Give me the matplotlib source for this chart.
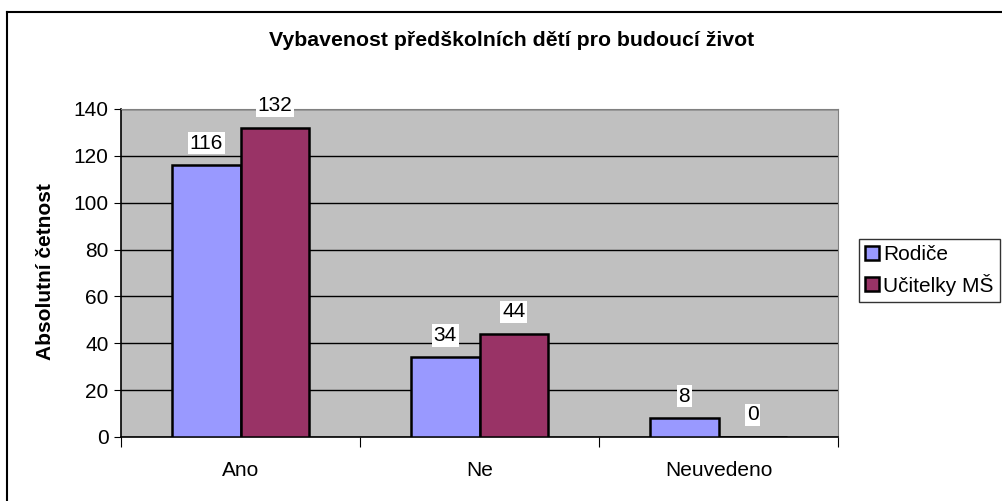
import numpy as np
import matplotlib
matplotlib.use('Agg')
import matplotlib.pyplot as plt
from matplotlib.patches import Patch

plt.rcParams['font.family'] = ['Liberation Sans', 'DejaVu Sans']

# data
kategorie = ['Ano', 'Ne', 'Neuvedeno']
rodice = [116, 34, 8]
ucitelky = [132, 44, 0]
serie = ['Rodiče', 'Učitelky MŠ']
barvy = ['#9999FF', '#993366']

W, H = 1002, 501
fig = plt.figure(figsize=(W / 100, H / 100), dpi=100)

# plocha grafu
ax = fig.add_axes([121 / W, 1 - 437 / H, 717 / W, 328 / H])
ax.set_facecolor('#C0C0C0')

x = np.arange(len(kategorie))
sirka = 1 / 3.5
for i, (hodnoty, barva) in enumerate(zip([rodice, ucitelky], barvy)):
    pos = x + (i - 0.5) * sirka
    ax.bar(pos, hodnoty, width=sirka, color=barva, edgecolor='black',
           linewidth=1.8, zorder=3)
    for p, v in zip(pos, hodnoty):
        ax.annotate(str(v), (p, v), xytext=(0, 9), textcoords='offset points',
                    ha='center', va='bottom', fontsize=15, zorder=5,
                    bbox=dict(boxstyle='square,pad=0.08', fc='white', ec='none'))

ax.set_xlim(-0.5, 2.5)
ax.set_ylim(0, 140)
ax.set_yticks(np.arange(0, 141, 20))
ax.yaxis.grid(True, color='black', linewidth=1)
ax.set_axisbelow(True)
ax.tick_params(axis='y', direction='out', length=5, labelsize=15, pad=4)

ax.set_xticks([-0.5, 0.5, 1.5, 2.5])
ax.set_xticklabels([])
ax.set_xticks(x, minor=True)
ax.set_xticklabels(kategorie, minor=True, fontsize=15)
ax.tick_params(axis='x', which='major', direction='out', length=7)
ax.tick_params(axis='x', which='minor', length=0, pad=17)

for s in ['top', 'right']:
    ax.spines[s].set_color('#808080')
ax.spines['left'].set_linewidth(1.2)
ax.spines['bottom'].set_linewidth(1.2)

fig.text(512 / W, 1 - 40 / H, 'Vybavenost předškolních dětí pro budoucí život',
         ha='center', va='center', fontsize=15.3, fontweight='bold')
fig.text(46 / W, 1 - 272 / H, 'Absolutní četnost', rotation=90,
         ha='center', va='center', fontsize=15, fontweight='bold')

handles = [Patch(facecolor=c, edgecolor='black', linewidth=1.8) for c in barvy]
fig.legend(handles, serie, loc='upper left', bbox_to_anchor=(859 / W, 1 - 239 / H),
           fontsize=15, frameon=True, fancybox=False, edgecolor='black',
           handlelength=0.65, handleheight=0.65, handletextpad=0.2,
           borderpad=0.3, labelspacing=0.45, borderaxespad=0)

# okraj celého grafu
fig.add_artist(plt.Line2D([7 / W, 7 / W], [0, 1 - 12 / H], color='black',
                          linewidth=1.5))
fig.add_artist(plt.Line2D([7 / W, 1], [1 - 12 / H, 1 - 12 / H], color='black',
                          linewidth=1.5))

fig.savefig('out.png', dpi=100)
